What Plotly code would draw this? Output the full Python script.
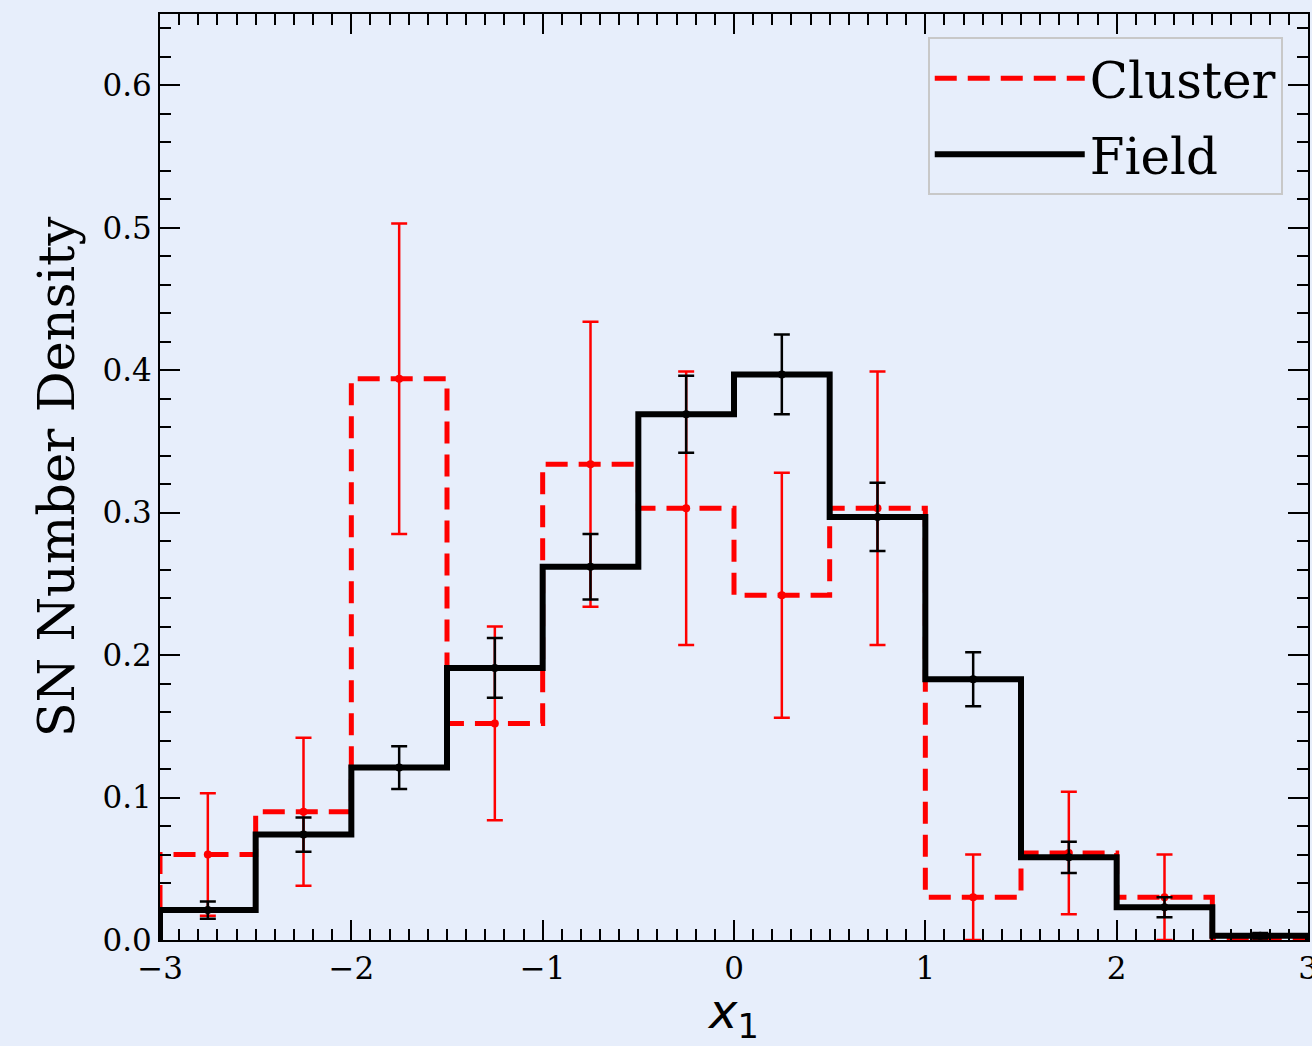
import numpy as np
import plotly.graph_objects as go

# ---- data ----
bin_edges = [-3.0, -2.5, -2.0, -1.5, -1.0, -0.5, 0.0, 0.5, 1.0, 1.5, 2.0, 2.5, 3.0]
bin_centers = [-2.75, -2.25, -1.75, -1.25, -0.75, -0.25, 0.25, 0.75, 1.25, 1.75, 2.25, 2.75]

cluster_density = [0.060, 0.090, 0.394, 0.152, 0.334, 0.303, 0.242, 0.303, 0.030, 0.061, 0.030, 0.0]
cluster_err = [0.043, 0.052, 0.109, 0.068, 0.100, 0.096, 0.086, 0.096, 0.030, 0.043, 0.030, 0.0]

field_density = [0.021, 0.074, 0.121, 0.191, 0.262, 0.369, 0.397, 0.297, 0.183, 0.058, 0.023, 0.003]
field_err = [0.006, 0.012, 0.015, 0.021, 0.023, 0.027, 0.028, 0.024, 0.019, 0.011, 0.007, 0.002]

x_ticks = [-3, -2, -1, 0, 1, 2, 3]
y_ticks = [0.0, 0.1, 0.2, 0.3, 0.4, 0.5, 0.6]

BG = "#E7EEFB"
SERIF = "DejaVu Serif"


def step_xy(edges, vals):
    xs = [edges[0]] + list(edges[:-1]) + [edges[-1], edges[-1]]
    ys = [0.0] + list(vals) + [vals[-1], 0.0]
    return xs, ys


fig = go.Figure()

cx, cy = step_xy(bin_edges, cluster_density)
fig.add_trace(go.Scatter(
    x=cx, y=cy, mode="lines", line_shape="hv", name="Cluster", legendgroup="c",
    line=dict(color="red", width=5, dash="22px,11px"), showlegend=True,
))
fig.add_trace(go.Scatter(
    x=bin_centers, y=cluster_density, mode="markers", showlegend=False, legendgroup="c",
    marker=dict(color="red", size=8),
    error_y=dict(type="data", array=cluster_err, color="red", thickness=2.5, width=8),
))

fx, fy = step_xy(bin_edges, field_density)
fig.add_trace(go.Scatter(
    x=fx, y=fy, mode="lines", line_shape="hv", name="Field", legendgroup="f",
    line=dict(color="black", width=6), showlegend=True,
))
fig.add_trace(go.Scatter(
    x=bin_centers, y=field_density, mode="markers", showlegend=False, legendgroup="f",
    marker=dict(color="black", size=8),
    error_y=dict(type="data", array=field_err, color="black", thickness=2.5, width=8),
))

axis_common = dict(
    showline=True, linecolor="black", linewidth=2, mirror="allticks",
    ticks="inside", ticklen=20, tickwidth=2, tickcolor="black",
    showgrid=False, zeroline=False, automargin=False,
    tickfont=dict(family=SERIF, size=31, color="black"),
)

fig.update_xaxes(
    range=[-3, 3], tickvals=x_ticks, ticklabeloverflow="allow",
    minor=dict(ticks="inside", ticklen=11, tickwidth=2, tickcolor="black", dtick=0.1, showgrid=False),
    title=dict(text="<i>x</i><sub>1</sub>", font=dict(family="DejaVu Sans", size=48, color="black"), standoff=8),
    **axis_common,
)
fig.update_yaxes(
    range=[0, 0.65], tickvals=y_ticks, tickformat=".1f",
    minor=dict(ticks="inside", ticklen=11, tickwidth=2, tickcolor="black", dtick=0.02, showgrid=False),
    title=dict(text="SN Number Density", font=dict(family=SERIF, size=51, color="black"), standoff=12),
    **axis_common,
)

fig.update_layout(
    width=1312, height=1046,
    margin=dict(l=160, r=4, t=14, b=106),
    paper_bgcolor=BG, plot_bgcolor=BG,
    legend=dict(
        x=0.978, y=0.975, xanchor="right", yanchor="top",
        bgcolor=BG, bordercolor="#c8c8c8", borderwidth=2,
        font=dict(family=SERIF, size=50, color="black"),
        itemwidth=150, tracegroupgap=8,
    ),
)

fig.write_html("out.html")
